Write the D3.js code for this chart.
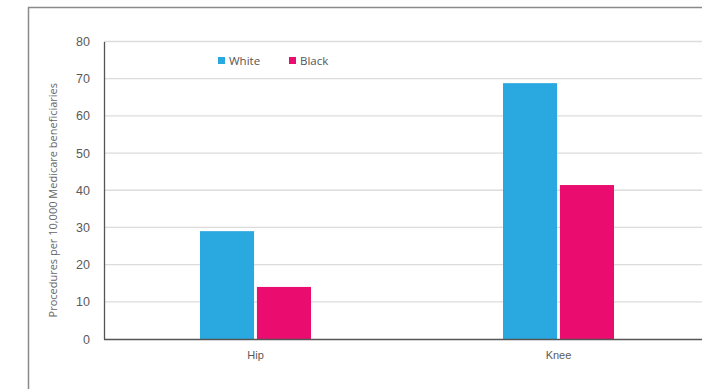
<!DOCTYPE html>
<html>
<head>
<meta charset="utf-8">
<script src="https://cdn.jsdelivr.net/npm/d3@7"></script>
<style>
  body { margin: 0; background: #fff; }
  svg { display: block; font-family: "Open Sans", "Noto Sans", sans-serif; }
</style>
</head>
<body>
<svg width="702" height="389"></svg>
<script>
const categories = ["Hip", "Knee"];
const seriesNames = ["White", "Black"];
const whiteValues = [29, 68.8];
const blackValues = [14, 41.4];
const yTicks = [0, 10, 20, 30, 40, 50, 60, 70, 80];
const colors = { White: "#2aa8e0", Black: "#ea0d6f" };

const svg = d3.select("svg");
const plotLeft = 104, plotRight = 710, plotTop = 41.5, plotBottom = 339;

// outer frame (only left and top edges visible in the picture)
svg.append("path")
  .attr("d", "M28.5,389 V7.5 H702")
  .attr("fill", "none")
  .attr("stroke", "#8a8a8a")
  .attr("stroke-width", 1.5);

const y = d3.scaleLinear().domain([0, 80]).range([plotBottom, plotTop]);
const x = d3.scaleBand().domain(categories).range([plotLeft, plotRight]);
const groupW = 111;
const xs = d3.scaleBand().domain(seriesNames).range([0, groupW]).paddingInner(0.05);

const rows = categories.map((c, i) => ({ cat: c, White: whiteValues[i], Black: blackValues[i] }));

// gridlines
svg.append("g")
  .selectAll("line")
  .data(yTicks.filter((d) => d > 0))
  .join("line")
  .attr("x1", plotLeft).attr("x2", 702)
  .attr("y1", (d) => y(d)).attr("y2", (d) => y(d))
  .attr("stroke", "#dcdcdc")
  .attr("stroke-width", 1.3);

// y axis
const yAxis = svg.append("g")
  .attr("transform", `translate(${plotLeft},0)`)
  .call(d3.axisLeft(y).tickValues(yTicks).tickSize(0).tickPadding(14));
yAxis.select(".domain").attr("stroke", "#555").attr("stroke-width", 1.3);
yAxis.selectAll("text").attr("fill", "#5a5a5a").style("font-size", "12.5px");

// bars
const groups = svg.append("g")
  .selectAll("g")
  .data(rows)
  .join("g")
  .attr("transform", (d) => `translate(${x(d.cat) + x.bandwidth() / 2 - groupW / 2},0)`);

groups.selectAll("rect")
  .data((d) => seriesNames.map((s) => ({ key: s, value: d[s] })))
  .join("rect")
  .attr("x", (d) => xs(d.key))
  .attr("width", xs.bandwidth())
  .attr("y", (d) => y(d.value))
  .attr("height", (d) => y(0) - y(d.value))
  .attr("fill", (d) => colors[d.key]);

// x axis
const xAxis = svg.append("g")
  .attr("transform", `translate(0,${plotBottom})`)
  .call(d3.axisBottom(x).tickSize(0).tickPadding(12));
xAxis.select(".domain").attr("d", `M${plotLeft},0.5H702`).attr("stroke", "#555").attr("stroke-width", 1.5);
xAxis.selectAll("text").attr("fill", "#5a5a5a").style("font-size", "11px");

// y axis title
svg.append("text")
  .attr("transform", `translate(57,${(plotTop + plotBottom) / 2 + 10}) rotate(-90)`)
  .attr("text-anchor", "middle")
  .attr("fill", "#666")
  .style("font-size", "11px")
  .text("Procedures per 10,000 Medicare beneficiaries");

// legend
const legend = svg.append("g")
  .selectAll("g")
  .data(seriesNames)
  .join("g")
  .attr("transform", (d, i) => `translate(${218 + i * 71},57)`);
legend.append("rect")
  .attr("width", 7).attr("height", 7)
  .attr("fill", (d) => colors[d]);
legend.append("text")
  .attr("x", 11).attr("y", 7.5)
  .attr("fill", "#555")
  .style("font-size", "11.5px")
  .text((d) => d);
</script>
</body>
</html>
